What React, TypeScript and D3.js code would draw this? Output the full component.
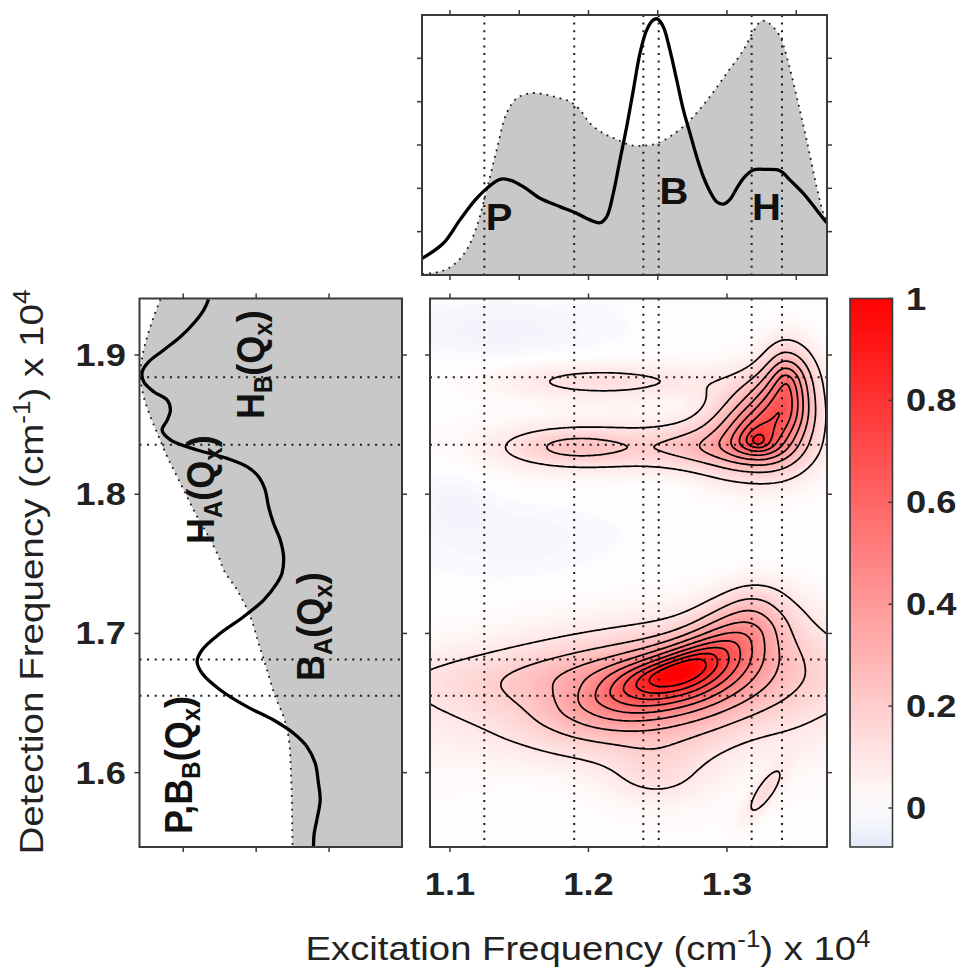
import React, { useMemo } from "react";
import * as d3 from "d3";

const W = 962;
const H = 970;
const FONT = "'Liberation Sans', Arial, Helvetica, sans-serif";

// ---------------- reference marker positions ----------------
const exMarks = [1.1248, 1.1897, 1.2396, 1.2507, 1.3178, 1.3397];
const detMarks = [1.884, 1.8356, 1.6813, 1.6552];

// ---------------- tick values ----------------
const exTickLabels = [1.1, 1.2, 1.3];
const exTicksTop = [1.1, 1.15, 1.2, 1.25, 1.3, 1.35];
const detTicks = [1.6, 1.7, 1.8, 1.9];
const cbTicks = [0, 0.2, 0.4, 0.6, 0.8, 1];
const leftAmpTicks = [0.5, 1.0, 1.5];
const topAmpTicks = [1 / 6, 2 / 6, 3 / 6, 4 / 6, 5 / 6];
const contourLevels = [0.1, 0.2, 0.3, 0.4, 0.5, 0.6, 0.7, 0.8, 0.9];

// ---------------- top panel: excitation spectra ----------------
const topSolidEx = [1.08, 1.0952, 1.1072, 1.1181, 1.1265, 1.1361, 1.1433, 1.1529, 1.165, 1.1794, 1.1915, 1.2011, 1.2083, 1.2131, 1.2179, 1.2227, 1.2276, 1.2324, 1.2372, 1.242, 1.2468, 1.2497, 1.254, 1.2588, 1.2637, 1.2685, 1.2733, 1.2781, 1.2829, 1.2877, 1.2925, 1.2974, 1.3022, 1.307, 1.3118, 1.319, 1.3286, 1.3383, 1.3455, 1.3551, 1.3647, 1.372];
const topSolidVal = [0.064, 0.122, 0.212, 0.288, 0.333, 0.368, 0.365, 0.34, 0.295, 0.263, 0.237, 0.212, 0.201, 0.224, 0.314, 0.442, 0.571, 0.712, 0.853, 0.942, 0.981, 0.985, 0.955, 0.865, 0.75, 0.635, 0.545, 0.455, 0.378, 0.321, 0.282, 0.273, 0.291, 0.333, 0.372, 0.404, 0.406, 0.401, 0.365, 0.314, 0.25, 0.201];
const topGrayEx = [1.08, 1.0928, 1.1024, 1.112, 1.1193, 1.1265, 1.1337, 1.1409, 1.1481, 1.1578, 1.1674, 1.177, 1.1866, 1.1939, 1.2011, 1.2107, 1.2203, 1.23, 1.2396, 1.2492, 1.2588, 1.2685, 1.2757, 1.2877, 1.2998, 1.3118, 1.319, 1.325, 1.3311, 1.3383, 1.3431, 1.3503, 1.3575, 1.3647, 1.3696, 1.372];
const topGrayVal = [0.004, 0.013, 0.038, 0.096, 0.186, 0.327, 0.481, 0.622, 0.679, 0.699, 0.696, 0.683, 0.667, 0.635, 0.583, 0.545, 0.522, 0.5, 0.497, 0.506, 0.532, 0.571, 0.609, 0.686, 0.776, 0.865, 0.936, 0.978, 0.965, 0.917, 0.84, 0.686, 0.519, 0.34, 0.237, 0.212];

// ---------------- left panel: detection spectra ----------------
const leftSolidDet = [1.94, 1.9323, 1.9228, 1.9131, 1.9036, 1.8952, 1.888, 1.8808, 1.8736, 1.8677, 1.8605, 1.8533, 1.8461, 1.839, 1.8318, 1.8258, 1.8198, 1.8126, 1.803, 1.791, 1.7791, 1.7671, 1.7552, 1.7432, 1.736, 1.724, 1.712, 1.7001, 1.6881, 1.6797, 1.6714, 1.6594, 1.6474, 1.6378, 1.6283, 1.6187, 1.6067, 1.5924, 1.5804, 1.566, 1.5565, 1.5468];
const leftSolidAmp = [1.326, 1.36, 1.428, 1.519, 1.634, 1.736, 1.781, 1.771, 1.702, 1.61, 1.588, 1.61, 1.645, 1.588, 1.405, 1.2, 1.063, 0.983, 0.938, 0.915, 0.881, 0.835, 0.812, 0.823, 0.858, 0.949, 1.086, 1.246, 1.371, 1.405, 1.371, 1.246, 1.063, 0.881, 0.744, 0.652, 0.595, 0.573, 0.561, 0.584, 0.602, 0.607];
const leftGrayDet = [1.94, 1.9275, 1.9131, 1.8988, 1.8844, 1.87, 1.8557, 1.8413, 1.827, 1.8126, 1.7982, 1.7839, 1.7695, 1.7551, 1.7456, 1.7312, 1.712, 1.6929, 1.6738, 1.6546, 1.6402, 1.6259, 1.602, 1.578, 1.5469];
const leftGrayAmp = [1.656, 1.702, 1.747, 1.781, 1.793, 1.771, 1.725, 1.668, 1.61, 1.542, 1.474, 1.405, 1.326, 1.257, 1.223, 1.131, 1.04, 0.983, 0.926, 0.869, 0.812, 0.778, 0.762, 0.755, 0.751];

// ---------------- 2D map: spectral features ----------------
// each feature: centre (ex, det), amplitude, widths (left/right along the axis, up/down across), tilt (deg), peak sharpness
const mapBase = -0.008;
const pkEx = [1.2682, 1.2588, 1.313, 1.2083, 1.248, 1.3224, 1.3433, 1.3347, 1.1903, 1.2155, 1.2769, 1.2069, 1.3274, 1.165, 1.2661, 1.1361, 1.2466, 1.1036, 1.3188, 1.1505];
const pkDet = [1.6745, 1.6702, 1.7097, 1.6666, 1.5983, 1.8382, 1.8799, 1.8605, 1.8339, 1.8332, 1.8339, 1.8813, 1.5861, 1.5983, 1.8627, 1.918, 1.8052, 1.798, 1.6091, 1.7671];
const pkAmp = [0.55, 0.45, 0.22, 0.06, 0.07, 0.75, 0.4, 0.25, 0.15, 0.1, 0.1, 0.13, 0.13, -0.04, -0.03, -0.03, -0.025, -0.03, -0.025, -0.02];
const pkWL = [0.0396, 0.0719, 0.0288, 0.18, 0.0216, 0.0158, 0.0094, 0.018, 0.0324, 0.079, 0.0288, 0.0547, 0.018, 0.043, 0.018, 0.043, 0.029, 0.018, 0.0217, 0.04];
const pkWR = [0.0302, 0.0576, 0.0216, 0.18, 0.0216, 0.013, 0.0115, 0.016, 0.0324, 0.065, 0.0288, 0.0547, 0.016, 0.043, 0.018, 0.043, 0.029, 0.018, 0.0217, 0.04];
const pkWU = [0.0094, 0.018, 0.016, 0.0144, 0.018, 0.013, 0.0158, 0.018, 0.0086, 0.018, 0.0086, 0.0094, 0.0055, 0.029, 0.0086, 0.0144, 0.0072, 0.018, 0.0217, 0.02];
const pkWD = [0.0144, 0.0302, 0.018, 0.018, 0.013, 0.0094, 0.0216, 0.014, 0.0086, 0.018, 0.0086, 0.0094, 0.0055, 0.029, 0.0086, 0.0144, 0.0072, 0.018, 0.0217, 0.02];
const pkAng = [22, 5, 30, 0, 0, 0, 0, 0, 0, 0, 0, 0, 55, 0, 0, 0, 0, 0, 0, 0];
const pkShape = [0.8, 0.7, 1, 1, 1, 0.6, 0.8, 1, 1, 1, 1, 1, 1, 1, 1, 1, 1, 1, 1, 1];

function field(e: number, d: number) {
  let s = mapBase;
  for (let k = 0; k < pkAmp.length; k++) {
    const a = (pkAng[k] * Math.PI) / 180;
    const dx = e - pkEx[k];
    const dy = d - pkDet[k];
    const u = dx * Math.cos(a) + dy * Math.sin(a);
    const v = -dx * Math.sin(a) + dy * Math.cos(a);
    const su = u < 0 ? pkWL[k] : pkWR[k];
    const sv = v < 0 ? pkWD[k] : pkWU[k];
    const q = (u * u) / (su * su) + (v * v) / (sv * sv);
    s += pkAmp[k] * Math.exp(-0.5 * Math.pow(q, pkShape[k]));
  }
  return s;
}

const posColor = d3.interpolateRgb("#ffffff", "#ff0000");
const negColor = d3.interpolateRgb("#ffffff", "#e4e8f8");
function cmap(v: number) {
  if (v >= 0) return posColor(Math.min(v, 1));
  return negColor(Math.min(-v / 0.0765, 1));
}

// ---------------- layout ----------------
const TOP = { x0: 422, x1: 827, y0: 15, y1: 275 };
const MAIN = { x0: 430, x1: 827, y0: 298.5, y1: 847 };
const LEFT = { x0: 139.5, x1: 402, y0: 298.5, y1: 847 };
const CB = { x0: 850, x1: 892.5, y0: 298.5, y1: 847 };

const FRAME = "#3a3a3a";

export default function App() {
  const xTop = d3.scaleLinear().domain([1.0798, 1.3722]).range([TOP.x0, TOP.x1]);
  const yTop = d3.scaleLinear().domain([0, 1]).range([TOP.y1, TOP.y0]);
  const xMain = d3.scaleLinear().domain([1.0856, 1.3722]).range([MAIN.x0, MAIN.x1]);
  const yMain = d3.scaleLinear().domain([1.5466, 1.9406]).range([MAIN.y1, MAIN.y0]);
  const xLeft = d3.scaleLinear().domain([0, 1.8]).range([LEFT.x1, LEFT.x0]);
  const yCb = d3.scaleLinear().domain([-0.0765, 1]).range([CB.y1, CB.y0]);

  const heat = useMemo(() => {
    const nx = 200;
    const ny = 276;
    const [e0, e1] = xMain.domain();
    const [d0, d1] = yMain.domain();
    const vals: number[] = new Array(nx * ny);
    for (let j = 0; j < ny; j++) {
      const det = d1 - ((j + 0.5) / ny) * (d1 - d0);
      for (let i = 0; i < nx; i++) {
        const ex = e0 + ((i + 0.5) / nx) * (e1 - e0);
        vals[j * nx + i] = field(ex, det);
      }
    }
    const gen = d3.contours().size([nx, ny]);
    const PW = MAIN.x1 - MAIN.x0;
    const PH = MAIN.y1 - MAIN.y0;
    const proj = d3.geoTransform({
      point: function (x: number, y: number) {
        (this as any).stream.point(MAIN.x0 + (x * PW) / nx, MAIN.y0 + (y * PH) / ny);
      },
    });
    const path = d3.geoPath(proj as any);
    const fillTh = d3.range(-0.08, 1.0001, 0.01);
    const bands = fillTh.map((t) => ({ t, d: path(gen.contour(vals, t) as any) || "" }));
    const lines = contourLevels.map((t) => path(gen.contour(vals, t) as any) || "");
    return { bands, lines };
  }, []);

  const topSolidPts = topSolidEx.map((e, i) => [e, topSolidVal[i]] as [number, number]);
  const topGrayPts = topGrayEx.map((e, i) => [e, topGrayVal[i]] as [number, number]);
  const topLine = d3.line<[number, number]>().x((d) => xTop(d[0])).y((d) => yTop(d[1])).curve(d3.curveCatmullRom.alpha(0.5));
  const topArea = d3.area<[number, number]>().x((d) => xTop(d[0])).y0(yTop(0)).y1((d) => yTop(d[1])).curve(d3.curveCatmullRom.alpha(0.5));

  const leftSolidPts = leftSolidDet.map((d, i) => [d, leftSolidAmp[i]] as [number, number]);
  const leftGrayPts = leftGrayDet.map((d, i) => [d, leftGrayAmp[i]] as [number, number]);
  const leftLine = d3.line<[number, number]>().y((d) => yMain(d[0])).x((d) => xLeft(d[1])).curve(d3.curveCatmullRom.alpha(0.5));
  const leftArea = d3.area<[number, number]>().y((d) => yMain(d[0])).x0(xLeft(0)).x1((d) => xLeft(d[1])).curve(d3.curveCatmullRom.alpha(0.5));

  const dotted = { stroke: "#1a1a1a", strokeWidth: 2, strokeDasharray: "2 5.6", fill: "none" } as const;
  const grayEdge = { stroke: "#1a1a1a", strokeWidth: 1.8, strokeDasharray: "1.8 5", fill: "none" } as const;
  const TL = 5;

  const cbStops = d3.range(0, 21).map((k) => {
    const v = -0.0765 + (k / 20) * (1 + 0.0765);
    return { off: k / 20, c: cmap(v) };
  });

  const tickLabel = (txt: string, x: number, y: number, anchor: string, size = 31, sx = 1.17) => (
    <text
      key={txt + x + y}
      transform={`translate(${x},${y}) scale(${sx},1)`}
      textAnchor={anchor as any}
      fontFamily={FONT}
      fontWeight="bold"
      fontSize={size}
      fill="#222"
    >
      {txt}
    </text>
  );

  const rotLabel = (main: string, sub1: string, mid: string, sub2: string, end: string, x: number, y: number, key: string, pre = "") => (
    <text key={key} transform={`translate(${x},${y}) scale(1.1,1) rotate(-90)`} fontFamily={FONT} fontWeight="bold" fontSize={36} fill="#111">
      {pre}
      {main}
      <tspan fontSize={24} dy={7}>{sub1}</tspan>
      <tspan dy={-7}>{mid}</tspan>
      <tspan fontSize={24} dy={7}>{sub2}</tspan>
      <tspan dy={-7}>{end}</tspan>
    </text>
  );

  return (
    <svg width={W} height={H} style={{ position: "absolute", left: 0, top: 0, background: "#fff" }}>
      <defs>
        <clipPath id="clipTop">
          <rect x={TOP.x0} y={TOP.y0} width={TOP.x1 - TOP.x0} height={TOP.y1 - TOP.y0} />
        </clipPath>
        <clipPath id="clipMain">
          <rect x={MAIN.x0} y={MAIN.y0} width={MAIN.x1 - MAIN.x0} height={MAIN.y1 - MAIN.y0} />
        </clipPath>
        <clipPath id="clipLeft">
          <rect x={LEFT.x0} y={LEFT.y0} width={LEFT.x1 - LEFT.x0} height={LEFT.y1 - LEFT.y0} />
        </clipPath>
        <linearGradient id="cbGrad" x1="0" y1="1" x2="0" y2="0">
          {cbStops.map((s, i) => (
            <stop key={i} offset={s.off} stopColor={s.c} />
          ))}
        </linearGradient>
      </defs>

      {/* ================= TOP PANEL ================= */}
      <g clipPath="url(#clipTop)">
        <path d={topArea(topGrayPts) || ""} fill="#c8c8c8" />
        {exMarks.map((e, i) => (
          <line key={i} x1={xTop(e)} x2={xTop(e)} y1={TOP.y0} y2={TOP.y1} {...dotted} />
        ))}
        <path d={topLine(topGrayPts) || ""} {...grayEdge} />
        <path d={topLine(topSolidPts) || ""} fill="none" stroke="#000" strokeWidth={3.3} />
      </g>
      <rect x={TOP.x0} y={TOP.y0} width={TOP.x1 - TOP.x0} height={TOP.y1 - TOP.y0} fill="none" stroke={FRAME} strokeWidth={2} />
      {exTicksTop.map((e, i) => (
        <g key={i} stroke={FRAME} strokeWidth={1.5}>
          <line x1={xTop(e)} x2={xTop(e)} y1={TOP.y0} y2={TOP.y0 - TL} />
          <line x1={xTop(e)} x2={xTop(e)} y1={TOP.y1} y2={TOP.y1 + TL} />
        </g>
      ))}
      {topAmpTicks.map((v, i) => (
        <g key={i} stroke={FRAME} strokeWidth={1.5}>
          <line x1={TOP.x0} x2={TOP.x0 - TL} y1={yTop(v)} y2={yTop(v)} />
          <line x1={TOP.x1} x2={TOP.x1 + TL} y1={yTop(v)} y2={yTop(v)} />
        </g>
      ))}
      {[
        { t: "P", x: 499, y: 230 },
        { t: "B", x: 674, y: 204 },
        { t: "H", x: 766.5, y: 220 },
      ].map((l) => (
        <text key={l.t} transform={`translate(${l.x},${l.y}) scale(1.08,1)`} textAnchor="middle" fontFamily={FONT} fontWeight="bold" fontSize={37} fill="#111">
          {l.t}
        </text>
      ))}

      {/* ================= LEFT PANEL ================= */}
      <g clipPath="url(#clipLeft)">
        <path d={leftArea(leftGrayPts) || ""} fill="#c8c8c8" />
        {detMarks.map((d, i) => (
          <line key={i} x1={LEFT.x0} x2={LEFT.x1} y1={yMain(d)} y2={yMain(d)} {...dotted} />
        ))}
        <path d={leftLine(leftGrayPts) || ""} {...grayEdge} />
        <path d={leftLine(leftSolidPts) || ""} fill="none" stroke="#000" strokeWidth={3.3} />
      </g>
      <rect x={LEFT.x0} y={LEFT.y0} width={LEFT.x1 - LEFT.x0} height={LEFT.y1 - LEFT.y0} fill="none" stroke={FRAME} strokeWidth={2} />
      {leftAmpTicks.map((v, i) => (
        <g key={i} stroke={FRAME} strokeWidth={1.5}>
          <line x1={xLeft(v)} x2={xLeft(v)} y1={LEFT.y0} y2={LEFT.y0 - TL} />
          <line x1={xLeft(v)} x2={xLeft(v)} y1={LEFT.y1} y2={LEFT.y1 + TL} />
        </g>
      ))}
      {detTicks.map((d, i) => (
        <g key={i} stroke={FRAME} strokeWidth={1.5}>
          <line x1={LEFT.x0} x2={LEFT.x0 - TL} y1={yMain(d)} y2={yMain(d)} />
          <line x1={LEFT.x1} x2={LEFT.x1 + TL} y1={yMain(d)} y2={yMain(d)} />
        </g>
      ))}
      {rotLabel("H", "B", "(Q", "x", ")", 264, 419, "hb")}
      {rotLabel("H", "A", "(Q", "x", ")", 214, 544, "ha")}
      {rotLabel("B", "A", "(Q", "x", ")", 324, 681, "ba")}
      {rotLabel("B", "B", "(Q", "x", ")", 192, 834, "pb", "P,")}

      {detTicks.map((d) => tickLabel(d.toFixed(1), 126, yMain(d) + 11, "end"))}

      {/* ================= MAIN PANEL ================= */}
      <g clipPath="url(#clipMain)">
        <rect x={MAIN.x0} y={MAIN.y0} width={MAIN.x1 - MAIN.x0} height={MAIN.y1 - MAIN.y0} fill={cmap(-0.08)} />
        {heat.bands.map((b, i) => (
          <path key={i} d={b.d} fill={cmap(b.t + 0.005)} />
        ))}
        {exMarks.map((e, i) => (
          <line key={"v" + i} x1={xMain(e)} x2={xMain(e)} y1={MAIN.y0} y2={MAIN.y1} {...dotted} />
        ))}
        {detMarks.map((d, i) => (
          <line key={"h" + i} x1={MAIN.x0} x2={MAIN.x1} y1={yMain(d)} y2={yMain(d)} {...dotted} />
        ))}
        {heat.lines.map((d, i) => (
          <path key={"c" + i} d={d} fill="none" stroke="#000" strokeWidth={1.7} strokeLinejoin="round" />
        ))}
      </g>
      <rect x={MAIN.x0} y={MAIN.y0} width={MAIN.x1 - MAIN.x0} height={MAIN.y1 - MAIN.y0} fill="none" stroke={FRAME} strokeWidth={2} />
      {exTickLabels.map((e, i) => (
        <g key={i} stroke={FRAME} strokeWidth={1.5}>
          <line x1={xMain(e)} x2={xMain(e)} y1={MAIN.y0} y2={MAIN.y0 - TL} />
          <line x1={xMain(e)} x2={xMain(e)} y1={MAIN.y1} y2={MAIN.y1 + TL} />
        </g>
      ))}
      {detTicks.map((d, i) => (
        <g key={i} stroke={FRAME} strokeWidth={1.5}>
          <line x1={MAIN.x0} x2={MAIN.x0 - TL} y1={yMain(d)} y2={yMain(d)} />
          <line x1={MAIN.x1} x2={MAIN.x1 + TL} y1={yMain(d)} y2={yMain(d)} />
        </g>
      ))}
      {exTickLabels.map((e) => tickLabel(e.toFixed(1), xMain(e), 895, "middle"))}

      {/* ================= COLORBAR ================= */}
      <rect x={CB.x0} y={CB.y0} width={CB.x1 - CB.x0} height={CB.y1 - CB.y0} fill="url(#cbGrad)" stroke={FRAME} strokeWidth={1.6} />
      {cbTicks.map((v, i) => (
        <line key={i} x1={CB.x1} x2={CB.x1 - 4} y1={yCb(v)} y2={yCb(v)} stroke={FRAME} strokeWidth={1.5} />
      ))}
      {cbTicks.map((v) => tickLabel(v === 0 || v === 1 ? String(v) : v.toFixed(1), 906, yCb(v) + 11, "start"))}

      {/* ================= AXIS TITLES ================= */}
      <text x={588} y={960} textAnchor="middle" fontFamily={FONT} fontSize={34} fill="#222" textLength={565} lengthAdjust="spacingAndGlyphs">
        Excitation Frequency (cm<tspan fontSize={23} dy={-13}>-1</tspan>
        <tspan dy={13}>) x 10</tspan>
        <tspan fontSize={23} dy={-13}>4</tspan>
      </text>
      <text transform={`translate(43,572) rotate(-90)`} textAnchor="middle" fontFamily={FONT} fontSize={34} fill="#222" textLength={565} lengthAdjust="spacingAndGlyphs">
        Detection Frequency (cm<tspan fontSize={23} dy={-13}>-1</tspan>
        <tspan dy={13}>) x 10</tspan>
        <tspan fontSize={23} dy={-13}>4</tspan>
      </text>
    </svg>
  );
}
